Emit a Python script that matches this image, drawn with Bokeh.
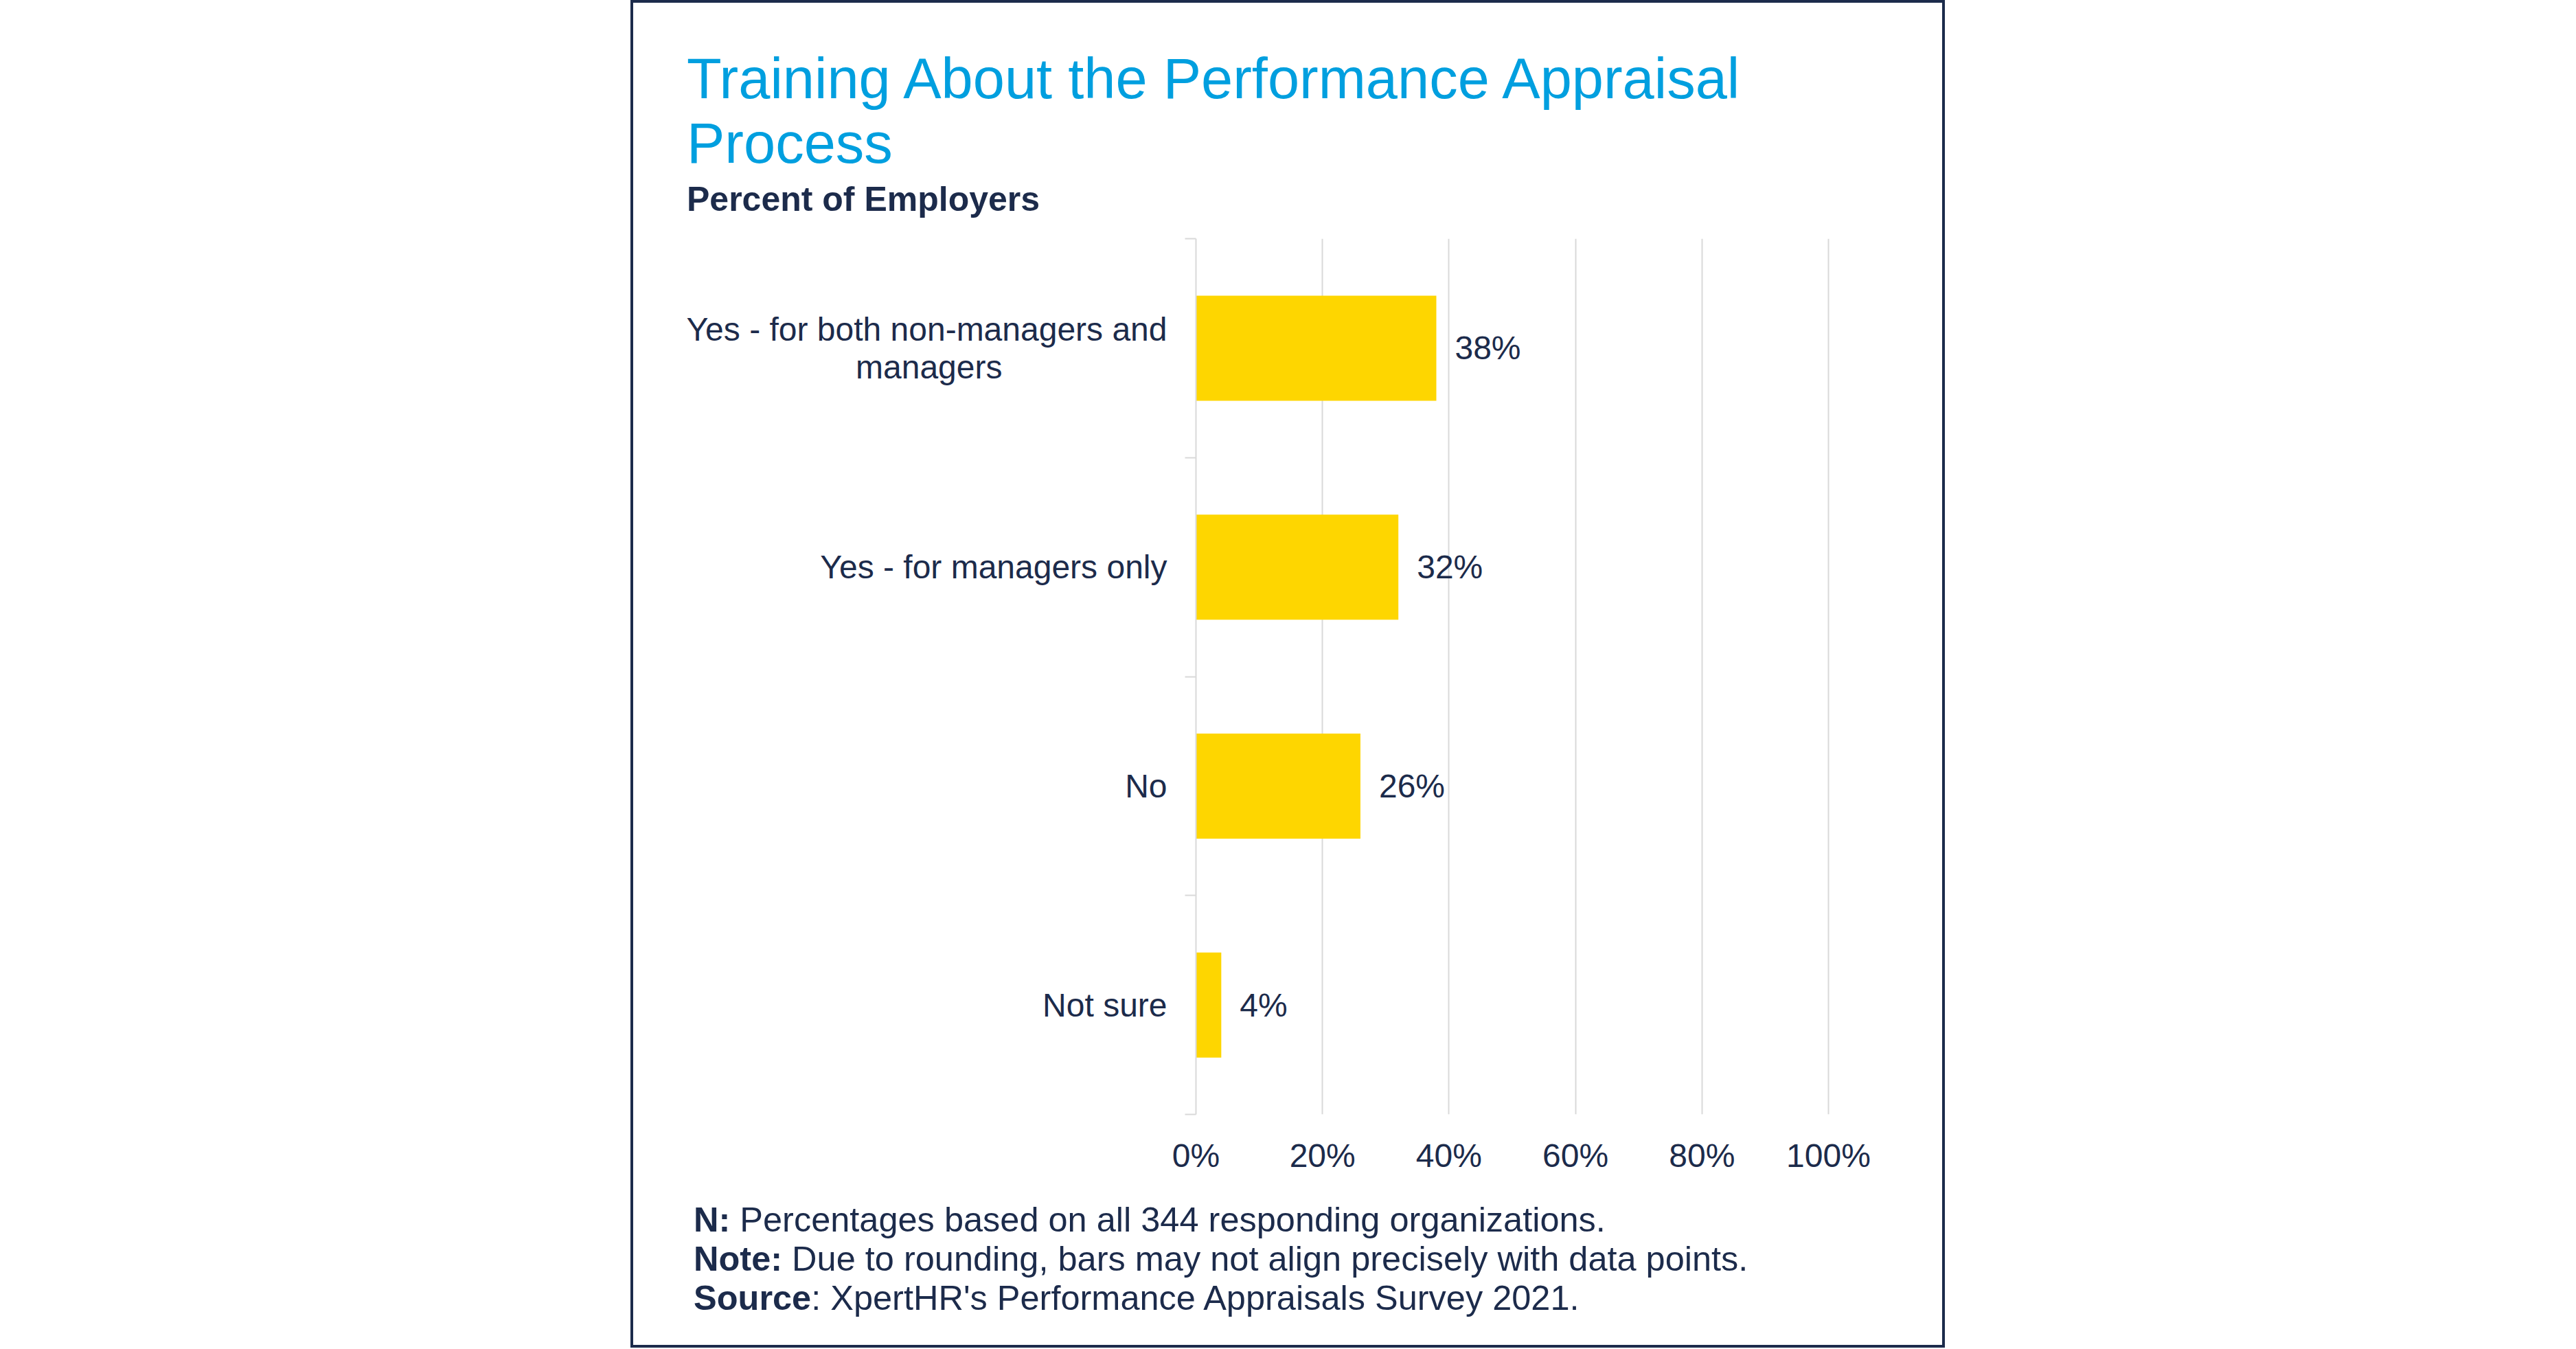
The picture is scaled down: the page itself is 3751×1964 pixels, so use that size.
from bokeh.plotting import figure
from bokeh.models import (Range1d, FixedTicker, PrintfTickFormatter, LabelSet,
                          ColumnDataSource, Div)
from bokeh.layouts import column
from bokeh.core.properties import value
from bokeh.embed import file_html
from bokeh.resources import INLINE

# ---------------- data ----------------
categories = ["Yes - for both non-managers and\nmanagers",
              "Yes - for managers only",
              "No",
              "Not sure"]
values = [38, 32, 26, 4]
value_labels = ["38%", "32%", "26%", "4%"]
x_ticks = [0, 20, 40, 60, 80, 100]
title_lines = ["Training About the Performance Appraisal", "Process"]
subtitle = "Percent of Employers"
notes_bold = ["N:", "Note:", "Source"]
notes_text = [" Percentages based on all 344 responding organizations.",
              " Due to rounding, bars may not align precisely with data points.",
              ": XpertHR's Performance Appraisals Survey 2021."]

# ---------------- style ----------------
FONT = "Liberation Sans"
NAVY = "#1c2b4b"
BLUE = "#009fdf"
YELLOW = "#fed600"
GRID = "#d9d9d9"

CW = 1906                      # content width inside the border
XMAX = 100 * 924 / 921
N = len(categories)

# y positions: category i centred at 2*i+1, band boundaries at even values
pos = [2 * i + 1 for i in range(N)]
bounds = [2 * i for i in range(N + 1)]


def centred_two_line(label):
    # pad the shorter second line with no-break spaces so it sits centred
    first, second = label.split("\n")
    return first + "\n" + second + "\u00a0" * 18


overrides = {pos[i]: (centred_two_line(c) if "\n" in c else c)
             for i, c in enumerate(categories)}

src = ColumnDataSource(dict(pos=pos, val=values, lab=value_labels))

p = figure(width=CW, height=1393, output_backend="svg", toolbar_location=None,
           x_range=Range1d(0, XMAX), y_range=Range1d(2 * N, 0),
           min_border_left=819, min_border_right=163,
           min_border_top=10, min_border_bottom=108)
p.outline_line_color = None
p.background_fill_color = "white"
p.border_fill_color = "white"

p.hbar(y="pos", right="val", left=0, height=0.96, source=src,
       fill_color=YELLOW, line_color=None)

p.add_layout(LabelSet(x="val", y="pos", text="lab", source=src, x_offset=27,
                      text_align="left", text_baseline="middle",
                      text_font=value(FONT), text_font_size="48px",
                      text_color=NAVY))

# x axis
xa = p.xaxis[0]
xa.ticker = FixedTicker(ticks=x_ticks)
xa.formatter = PrintfTickFormatter(format="%d%%")
xa.axis_line_color = None
xa.major_tick_line_color = None
xa.minor_tick_line_color = None
xa.major_label_text_font = FONT
xa.major_label_text_font_size = "48px"
xa.major_label_text_color = NAVY
xa.major_label_standoff = 27

# y axis: labels at band centres, short ticks at band boundaries
ya = p.yaxis[0]
ya.ticker = FixedTicker(ticks=pos, minor_ticks=bounds)
ya.major_label_overrides = overrides
ya.axis_line_color = GRID
ya.axis_line_width = 2
ya.major_tick_line_color = None
ya.major_tick_out = 0
ya.major_tick_in = 0
ya.minor_tick_line_color = GRID
ya.minor_tick_line_width = 2
ya.minor_tick_out = 16
ya.minor_tick_in = 0
ya.major_label_standoff = 26
ya.major_label_text_font = FONT
ya.major_label_text_font_size = "48px"
ya.major_label_text_color = NAVY
ya.major_label_text_line_height = 1.05

p.xgrid.grid_line_color = GRID
p.xgrid.grid_line_width = 2
p.xgrid.ticker = FixedTicker(ticks=x_ticks)
p.ygrid.visible = False

# ---------------- texts above and below ----------------
top_html = (
    f'<div style="padding:64px 0 0 78px;margin:0;font-family:\'{FONT}\';white-space:nowrap;">'
    f'<div style="font-size:83px;line-height:94px;color:{BLUE};">'
    + "<br>".join(title_lines) +
    '</div>'
    f'<div style="font-size:50px;line-height:60px;font-weight:bold;color:{NAVY};margin-top:4px;">'
    f'{subtitle}</div></div>'
)
top = Div(text=top_html, width=CW, height=333, margin=0)

note_rows = "".join(f"<div><b>{b}</b>{t}</div>" for b, t in zip(notes_bold, notes_text))
bottom_html = (
    f'<div style="padding:17px 0 0 88px;margin:0;font-family:\'{FONT}\';font-size:50.5px;'
    f'line-height:57px;color:{NAVY};white-space:pre;">{note_rows}</div>'
)
bottom = Div(text=bottom_html, width=CW, height=228, margin=0)

layout = column(top, p, bottom, margin=(0, 0, 0, 918),
                styles={"border": f"4px solid {NAVY}", "background": "white"})

open("out.html", "w").write(file_html(layout, INLINE))
